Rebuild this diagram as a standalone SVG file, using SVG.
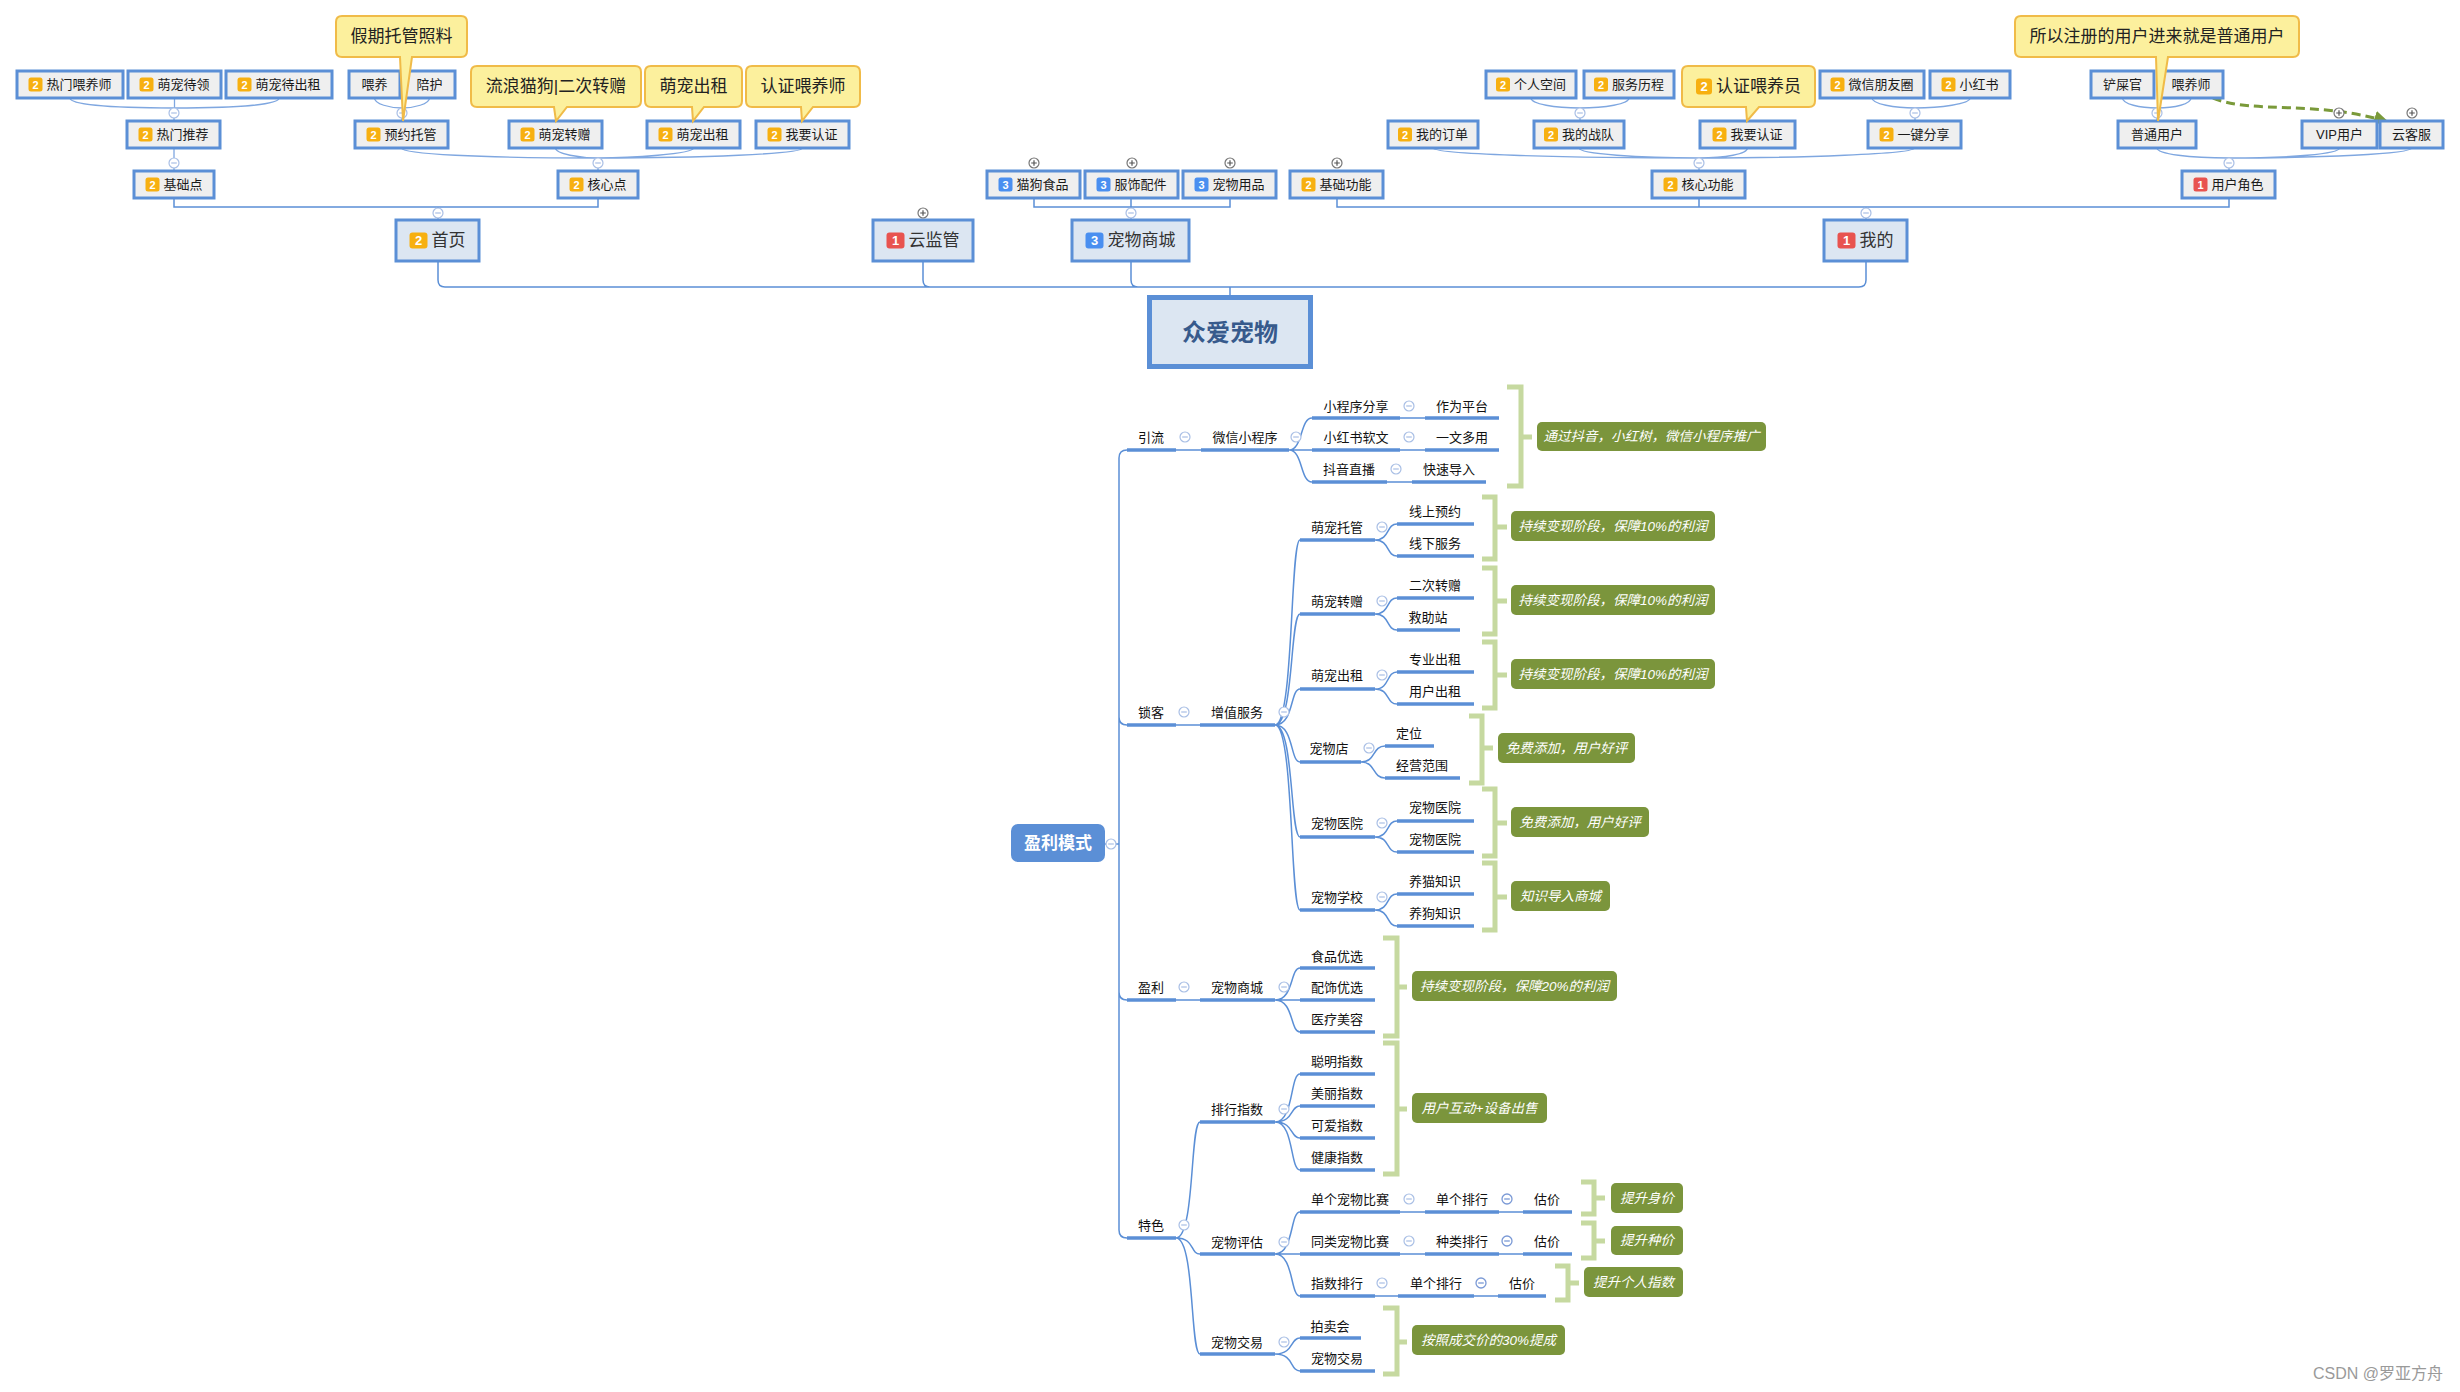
<svg xmlns="http://www.w3.org/2000/svg" xmlns:xlink="http://www.w3.org/1999/xlink" width="2460" height="1392" viewBox="0 0 2460 1392">
<style>
text{font-family:"Liberation Sans","Noto Sans CJK SC",sans-serif;dominant-baseline:central}
.sn{fill:#efefef;stroke:#5b8fd6;stroke-width:3}
.bn{fill:#dce6f2;stroke:#5b8fd6;stroke-width:3}
.ts{font-size:13px;fill:#1a1a1a}
.tc{font-size:13px;fill:#1a1a1a;text-anchor:middle}
.tb{font-size:17px;fill:#333}
.b1{fill:#e8534f}.b2{fill:#f7b010}.b3{fill:#4a8ff0}
.bt{font-size:11px;fill:#fff;font-weight:bold;text-anchor:middle}
.btl{font-size:13px;fill:#fff;font-weight:bold;text-anchor:middle}
.co{fill:#fcf09d;stroke:#f0bb48;stroke-width:2}
.ct{font-size:17px;fill:#222;text-anchor:middle}
.ln{fill:none;stroke:#5b8fd6;stroke-width:1.5}
.lc{fill:none;stroke:#7fa7e0;stroke-width:1.3}
.ul{stroke:#5b8fd6;stroke-width:3.5}
.cm{fill:#fff;stroke:#a9bfe5;stroke-width:1.2}
.cp{fill:#fff;stroke:#777;stroke-width:1.2}
.br{fill:none;stroke:#c6d9a0;stroke-width:5}
.gb{fill:#7b953c}
.gt{font-size:13.5px;fill:#fff;font-style:italic;text-anchor:middle}
.tt{font-size:13px;fill:#111;text-anchor:middle}
</style>
<defs>
<g id="mi"><circle r="5" class="cm"/><path d="M-2.8 0H2.8" stroke="#a9bfe5" stroke-width="1.2"/></g>
<g id="md"><circle r="5" fill="#fff" stroke="#7b9ad6" stroke-width="1.3"/><path d="M-2.8 0H2.8" stroke="#7b9ad6" stroke-width="1.3"/></g>
<g id="pl"><circle r="5" class="cp"/><path d="M-2.8 0H2.8M0 -2.8V2.8" stroke="#555" stroke-width="1.2"/></g>
<marker id="ah" markerWidth="16" markerHeight="14" refX="14" refY="7" orient="auto" markerUnits="userSpaceOnUse"><path d="M0 0L15 7L0 14Z" fill="#7a9a3a"/></marker>
</defs>
<rect width="2460" height="1392" fill="#fff"/>

<g id="connectors">
<path class="lc" d="M70 98C70 104 105 108 174 108M174.5 98V108M279 98C279 104 244 108 174 108M174 108V121"/>
<path class="lc" d="M374.5 98C374.5 104 390 108 402 108M429.5 98C429.5 104 414 108 402 108M402 108V121"/>
<path class="lc" d="M401.5 148C401.5 154 480 158 598 158M555.5 148C555.5 154 580 158 598 158M693.5 148C693.5 154 630 158 598 158M802.5 148C802.5 154 700 158 598 158M598 158V171M174 148V171"/>
<path class="ln" d="M174 198V207H598V198M438 207V220"/>
<path class="lc" d="M1531 98C1531 104 1555 108 1580 108M1629 98C1629 104 1605 108 1580 108M1580 108V121"/>
<path class="lc" d="M1872 98C1872 104 1895 108 1915 108M1970 98C1970 104 1940 108 1915 108M1915 108V121"/>
<path class="lc" d="M1433 148C1433 154 1560 158 1699 158M1579 148C1579 154 1640 158 1699 158M1747.5 148C1747.5 154 1725 158 1699 158M1914.5 148C1914.5 154 1800 158 1699 158M1699 158V171"/>
<path class="lc" d="M2122.5 98C2122.5 104 2140 108 2157 108M2191 98C2191 104 2175 108 2157 108M2157 108V121"/>
<path class="lc" d="M2157 148C2157 154 2190 158 2229 158M2339.5 148C2339.5 154 2290 158 2229 158M2411.5 148C2411.5 154 2320 158 2229 158M2229 158V171"/>
<path class="ln" d="M1034 198V207H1230V198M1131 198V220"/>
<path class="ln" d="M1337 198V207H2229V198M1699 198V207M1866 207V220"/>
<path class="ln" d="M438 261V280Q438 287 445 287H1859Q1866 287 1866 280V261M923 261V280Q923 287 930 287M1131 261V280Q1131 287 1138 287M1230 287V295"/>
<path d="M2213 98C2250 114 2320 100 2388 122" fill="none" stroke="#7a9a3a" stroke-width="3" stroke-dasharray="9,5" marker-end="url(#ah)"/>
<path class="ln" d="M1105 844H1119M1127 450Q1119 450 1119 458V1230Q1119 1238 1127 1238M1119 717Q1119 725 1127 725M1119 992Q1119 1000 1127 1000"/>
<path class="ln" d="M1176 450H1201M1289 450C1303 450 1300 418 1312 418M1289 450H1312M1289 450C1303 450 1300 482 1312 482M1400 418H1425M1400 450H1425M1387 482H1412"/>
<path class="ln" d="M1176 725H1200M1275 725C1294 725 1290 540 1300 540M1275 725C1294 725 1290 614 1300 614M1275 725C1294 725 1290 689 1300 689M1275 725C1294 725 1290 762 1300 762M1275 725C1294 725 1290 837 1300 837M1275 725C1294 725 1290 910 1300 910"/>
<path class="ln" d="M1375 540C1390 540 1386 524 1397 524M1375 540C1390 540 1386 556 1397 556M1375 614C1390 614 1386 598 1397 598M1375 614C1390 614 1386 630 1397 630M1375 689C1390 689 1386 672 1397 672M1375 689C1390 689 1386 704 1397 704M1361 762C1376 762 1372 746 1385 746M1361 762C1376 762 1372 778 1385 778M1375 837C1390 837 1386 821 1397 821M1375 837C1390 837 1386 852 1397 852M1375 910C1390 910 1386 894 1397 894M1375 910C1390 910 1386 926 1397 926"/>
<path class="ln" d="M1176 1000H1200M1275 1000C1294 1000 1290 968 1300 968M1275 1000H1300M1275 1000C1294 1000 1290 1032 1300 1032"/>
<path class="ln" d="M1176 1238C1195 1238 1190 1122 1200 1122M1176 1238C1195 1238 1190 1254 1200 1254M1176 1238C1195 1238 1190 1354 1200 1354"/>
<path class="ln" d="M1275 1122C1294 1122 1290 1074 1300 1074M1275 1122C1294 1122 1290 1106 1300 1106M1275 1122C1294 1122 1290 1138 1300 1138M1275 1122C1294 1122 1290 1170 1300 1170"/>
<path class="ln" d="M1275 1254C1294 1254 1290 1212 1300 1212M1275 1254H1300M1275 1254C1294 1254 1290 1296 1300 1296M1400 1212H1425M1499 1212H1523M1400 1254H1425M1499 1254H1523M1375 1296H1398M1474 1296H1498"/>
<path class="ln" d="M1275 1354C1294 1354 1290 1338 1300 1338M1275 1354C1294 1354 1290 1371 1300 1371"/>
</g>

<g id="n-rmwys"><rect class="sn" x="17" y="71" width="106" height="27"/><rect class="b2" x="28.5" y="77.5" width="14" height="14" rx="2.5"/><text class="bt" x="35.5" y="84.5">2</text><text class="ts" x="46.5" y="84.5">热门喂养师</text></g>
<g id="n-mcdl"><rect class="sn" x="128" y="71" width="93" height="27"/><rect class="b2" x="139.5" y="77.5" width="14" height="14" rx="2.5"/><text class="bt" x="146.5" y="84.5">2</text><text class="ts" x="157.5" y="84.5">萌宠待领</text></g>
<g id="n-mcdcz"><rect class="sn" x="226" y="71" width="106" height="27"/><rect class="b2" x="237.5" y="77.5" width="14" height="14" rx="2.5"/><text class="bt" x="244.5" y="84.5">2</text><text class="ts" x="255.5" y="84.5">萌宠待出租</text></g>
<g id="n-wy"><rect class="sn" x="349" y="71" width="51" height="27"/><text class="tc" x="374.5" y="84.5">喂养</text></g>
<g id="n-ph"><rect class="sn" x="404" y="71" width="51" height="27"/><text class="tc" x="429.5" y="84.5">陪护</text></g>
<g id="n-grkj"><rect class="sn" x="1486" y="71" width="90" height="27"/><rect class="b2" x="1496" y="77.5" width="14" height="14" rx="2.5"/><text class="bt" x="1503" y="84.5">2</text><text class="ts" x="1514" y="84.5">个人空间</text></g>
<g id="n-fwlc"><rect class="sn" x="1584" y="71" width="90" height="27"/><rect class="b2" x="1594" y="77.5" width="14" height="14" rx="2.5"/><text class="bt" x="1601" y="84.5">2</text><text class="ts" x="1612" y="84.5">服务历程</text></g>
<g id="n-wxpyq"><rect class="sn" x="1820" y="71" width="104" height="27"/><rect class="b2" x="1830.5" y="77.5" width="14" height="14" rx="2.5"/><text class="bt" x="1837.5" y="84.5">2</text><text class="ts" x="1848.5" y="84.5">微信朋友圈</text></g>
<g id="n-xhs"><rect class="sn" x="1930" y="71" width="80" height="27"/><rect class="b2" x="1941.5" y="77.5" width="14" height="14" rx="2.5"/><text class="bt" x="1948.5" y="84.5">2</text><text class="ts" x="1959.5" y="84.5">小红书</text></g>
<g id="n-csg"><rect class="sn" x="2091" y="71" width="63" height="27"/><text class="tc" x="2122.5" y="84.5">铲屎官</text></g>
<g id="n-wys"><rect class="sn" x="2159" y="71" width="64" height="27"/><text class="tc" x="2191" y="84.5">喂养师</text></g>

<g id="n-rmtj"><rect class="sn" x="127" y="121" width="93" height="27"/><rect class="b2" x="138.5" y="127.5" width="14" height="14" rx="2.5"/><text class="bt" x="145.5" y="134.5">2</text><text class="ts" x="156.5" y="134.5">热门推荐</text></g>
<g id="n-yyfg"><rect class="sn" x="355" y="121" width="93" height="27"/><rect class="b2" x="366.5" y="127.5" width="14" height="14" rx="2.5"/><text class="bt" x="373.5" y="134.5">2</text><text class="ts" x="384.5" y="134.5">预约托管</text></g>
<g id="n-mczz"><rect class="sn" x="509" y="121" width="93" height="27"/><rect class="b2" x="520.5" y="127.5" width="14" height="14" rx="2.5"/><text class="bt" x="527.5" y="134.5">2</text><text class="ts" x="538.5" y="134.5">萌宠转赠</text></g>
<g id="n-mccz"><rect class="sn" x="647" y="121" width="93" height="27"/><rect class="b2" x="658.5" y="127.5" width="14" height="14" rx="2.5"/><text class="bt" x="665.5" y="134.5">2</text><text class="ts" x="676.5" y="134.5">萌宠出租</text></g>
<g id="n-wyrz1"><rect class="sn" x="756" y="121" width="93" height="27"/><rect class="b2" x="767.5" y="127.5" width="14" height="14" rx="2.5"/><text class="bt" x="774.5" y="134.5">2</text><text class="ts" x="785.5" y="134.5">我要认证</text></g>
<g id="n-wddd"><rect class="sn" x="1388" y="121" width="90" height="27"/><rect class="b2" x="1398" y="127.5" width="14" height="14" rx="2.5"/><text class="bt" x="1405" y="134.5">2</text><text class="ts" x="1416" y="134.5">我的订单</text></g>
<g id="n-wdzd"><rect class="sn" x="1534" y="121" width="90" height="27"/><rect class="b2" x="1544" y="127.5" width="14" height="14" rx="2.5"/><text class="bt" x="1551" y="134.5">2</text><text class="ts" x="1562" y="134.5">我的战队</text></g>
<g id="n-wyrz2"><rect class="sn" x="1700" y="121" width="95" height="27"/><rect class="b2" x="1712.5" y="127.5" width="14" height="14" rx="2.5"/><text class="bt" x="1719.5" y="134.5">2</text><text class="ts" x="1730.5" y="134.5">我要认证</text></g>
<g id="n-yjfx"><rect class="sn" x="1868" y="121" width="93" height="27"/><rect class="b2" x="1879.5" y="127.5" width="14" height="14" rx="2.5"/><text class="bt" x="1886.5" y="134.5">2</text><text class="ts" x="1897.5" y="134.5">一键分享</text></g>
<g id="n-ptyh"><rect class="sn" x="2118" y="121" width="78" height="27"/><text class="tc" x="2157" y="134.5">普通用户</text></g>
<g id="n-vip"><rect class="sn" x="2302" y="121" width="75" height="27"/><text class="tc" x="2339.5" y="134.5">VIP用户</text></g>
<g id="n-ykf"><rect class="sn" x="2380" y="121" width="63" height="27"/><text class="tc" x="2411.5" y="134.5">云客服</text></g>

<g id="n-jcd"><rect class="sn" x="134" y="171" width="80" height="27"/><rect class="b2" x="145.5" y="177.5" width="14" height="14" rx="2.5"/><text class="bt" x="152.5" y="184.5">2</text><text class="ts" x="163.5" y="184.5">基础点</text></g>
<g id="n-hxd"><rect class="sn" x="558" y="171" width="80" height="27"/><rect class="b2" x="569.5" y="177.5" width="14" height="14" rx="2.5"/><text class="bt" x="576.5" y="184.5">2</text><text class="ts" x="587.5" y="184.5">核心点</text></g>
<g id="n-mgsp"><rect class="sn" x="987" y="171" width="93" height="27"/><rect class="b3" x="998.5" y="177.5" width="14" height="14" rx="2.5"/><text class="bt" x="1005.5" y="184.5">3</text><text class="ts" x="1016.5" y="184.5">猫狗食品</text></g>
<g id="n-fspj"><rect class="sn" x="1085" y="171" width="93" height="27"/><rect class="b3" x="1096.5" y="177.5" width="14" height="14" rx="2.5"/><text class="bt" x="1103.5" y="184.5">3</text><text class="ts" x="1114.5" y="184.5">服饰配件</text></g>
<g id="n-cwyp"><rect class="sn" x="1183" y="171" width="93" height="27"/><rect class="b3" x="1194.5" y="177.5" width="14" height="14" rx="2.5"/><text class="bt" x="1201.5" y="184.5">3</text><text class="ts" x="1212.5" y="184.5">宠物用品</text></g>
<g id="n-jcgn"><rect class="sn" x="1290" y="171" width="93" height="27"/><rect class="b2" x="1301.5" y="177.5" width="14" height="14" rx="2.5"/><text class="bt" x="1308.5" y="184.5">2</text><text class="ts" x="1319.5" y="184.5">基础功能</text></g>
<g id="n-hxgn"><rect class="sn" x="1652" y="171" width="93" height="27"/><rect class="b2" x="1663.5" y="177.5" width="14" height="14" rx="2.5"/><text class="bt" x="1670.5" y="184.5">2</text><text class="ts" x="1681.5" y="184.5">核心功能</text></g>
<g id="n-yhjs"><rect class="sn" x="2182" y="171" width="93" height="27"/><rect class="b1" x="2193.5" y="177.5" width="14" height="14" rx="2.5"/><text class="bt" x="2200.5" y="184.5">1</text><text class="ts" x="2211.5" y="184.5">用户角色</text></g>

<g id="n-sy"><rect class="bn" x="396" y="220" width="83" height="41"/><rect class="b2" x="409.5" y="232.5" width="18" height="16" rx="3"/><text class="btl" x="418.5" y="240.5">2</text><text class="tb" x="431.5" y="240.5">首页</text></g>
<g id="n-yjg"><rect class="bn" x="873" y="220" width="100" height="41"/><rect class="b1" x="886.5" y="232.5" width="18" height="16" rx="3"/><text class="btl" x="895.5" y="240.5">1</text><text class="tb" x="908.5" y="240.5">云监管</text></g>
<g id="n-cwsc"><rect class="bn" x="1072" y="220" width="117" height="41"/><rect class="b3" x="1085.5" y="232.5" width="18" height="16" rx="3"/><text class="btl" x="1094.5" y="240.5">3</text><text class="tb" x="1107.5" y="240.5">宠物商城</text></g>
<g id="n-wd"><rect class="bn" x="1824" y="220" width="83" height="41"/><rect class="b1" x="1837.5" y="232.5" width="18" height="16" rx="3"/><text class="btl" x="1846.5" y="240.5">1</text><text class="tb" x="1859.5" y="240.5">我的</text></g>

<g id="n-root"><rect x="1149.5" y="297.5" width="161" height="69" fill="#dce6f2" stroke="#5b8fd6" stroke-width="5"/><text x="1230" y="332" font-size="24" font-weight="bold" fill="#375a8c" text-anchor="middle">众爱宠物</text></g>

<g id="markers">
<use href="#mi" x="174" y="113"/><use href="#mi" x="402" y="113"/><use href="#mi" x="174" y="163"/><use href="#mi" x="598" y="163"/><use href="#mi" x="438" y="213"/>
<use href="#pl" x="923" y="213"/><use href="#mi" x="1131" y="213"/>
<use href="#pl" x="1034" y="163"/><use href="#pl" x="1132" y="163"/><use href="#pl" x="1230" y="163"/><use href="#pl" x="1337" y="163"/>
<use href="#mi" x="1580" y="113"/><use href="#mi" x="1915" y="113"/><use href="#mi" x="1699" y="163"/><use href="#mi" x="1866" y="213"/>
<use href="#mi" x="2157" y="113"/><use href="#pl" x="2339" y="113"/><use href="#pl" x="2412" y="113"/><use href="#mi" x="2229" y="163"/>
<use href="#mi" x="1111" y="844"/>
<use href="#mi" x="1185" y="437"/><use href="#mi" x="1296" y="437"/><use href="#mi" x="1409" y="406"/><use href="#mi" x="1409" y="437"/><use href="#mi" x="1396" y="469"/>
<use href="#mi" x="1184" y="712"/><use href="#mi" x="1284" y="712"/>
<use href="#mi" x="1382" y="527"/><use href="#mi" x="1382" y="601"/><use href="#mi" x="1382" y="675"/><use href="#mi" x="1369" y="748"/><use href="#mi" x="1382" y="823"/><use href="#mi" x="1382" y="897"/>
<use href="#mi" x="1184" y="987"/><use href="#mi" x="1284" y="987"/><use href="#mi" x="1284" y="1109"/>
<use href="#mi" x="1184" y="1225"/><use href="#mi" x="1284" y="1242"/><use href="#mi" x="1284" y="1342"/>
<use href="#mi" x="1409" y="1199"/><use href="#md" x="1507" y="1199"/><use href="#mi" x="1409" y="1241"/><use href="#md" x="1507" y="1241"/><use href="#mi" x="1382" y="1283"/><use href="#md" x="1481" y="1283"/>
</g>

<g id="c-jqtg"><path class="co" d="M342 16H461Q467 16 467 22V51Q467 57 461 57H412L403 121L400 57H342Q336 57 336 51V22Q336 16 342 16Z"/><text class="ct" x="401.5" y="36.5">假期托管照料</text></g>
<g id="c-llmg"><path class="co" d="M477 66H635Q641 66 641 72V101Q641 107 635 107H567L556 121L554 107H477Q471 107 471 101V72Q471 66 477 66Z"/><text class="ct" x="556" y="86.5">流浪猫狗|二次转赠</text></g>
<g id="c-mccz"><path class="co" d="M651 66H736Q742 66 742 72V101Q742 107 736 107H704L693 121L692 107H651Q645 107 645 101V72Q645 66 651 66Z"/><text class="ct" x="693.5" y="86.5">萌宠出租</text></g>
<g id="c-rzwys"><path class="co" d="M752 66H854Q860 66 860 72V101Q860 107 854 107H813L802 121L801 107H752Q746 107 746 101V72Q746 66 752 66Z"/><text class="ct" x="803" y="86.5">认证喂养师</text></g>
<g id="c-rzwyy"><path class="co" d="M1688 66H1809Q1815 66 1815 72V101Q1815 107 1809 107H1759L1747 121L1746 107H1688Q1682 107 1682 101V72Q1682 66 1688 66Z"/><rect class="b2" x="1696" y="78.5" width="16" height="16" rx="3"/><text class="btl" x="1704" y="86.5">2</text><text x="1716" y="86.5" font-size="17" fill="#222">认证喂养员</text></g>
<g id="c-zc"><path class="co" d="M2021 16H2293Q2299 16 2299 22V51Q2299 57 2293 57H2168L2158 121L2156 57H2021Q2015 57 2015 51V22Q2015 16 2021 16Z"/><text class="ct" x="2157" y="36.5">所以注册的用户进来就是普通用户</text></g>

<g id="n-ylms"><rect x="1011" y="824" width="94" height="38" rx="7" fill="#5b8fd6"/><text x="1058" y="843" font-size="17" font-weight="bold" fill="#fff" text-anchor="middle">盈利模式</text></g>

<g id="n-yl"><text class="tt" x="1151" y="437">引流</text><line class="ul" x1="1127" y1="450" x2="1176" y2="450"/></g>
<g id="n-wxxcx"><text class="tt" x="1245" y="437">微信小程序</text><line class="ul" x1="1201" y1="450" x2="1289" y2="450"/></g>
<g id="n-xcxfx"><text class="tt" x="1356" y="406">小程序分享</text><line class="ul" x1="1312" y1="418" x2="1400" y2="418"/></g>
<g id="n-zwpt"><text class="tt" x="1462" y="406">作为平台</text><line class="ul" x1="1425" y1="418" x2="1499" y2="418"/></g>
<g id="n-xhsrw"><text class="tt" x="1356" y="437">小红书软文</text><line class="ul" x1="1312" y1="450" x2="1400" y2="450"/></g>
<g id="n-ywdy"><text class="tt" x="1462" y="437">一文多用</text><line class="ul" x1="1425" y1="450" x2="1499" y2="450"/></g>
<g id="n-dyzb"><text class="tt" x="1349" y="469">抖音直播</text><line class="ul" x1="1312" y1="482" x2="1387" y2="482"/></g>
<g id="n-ksdr"><text class="tt" x="1449" y="469">快速导入</text><line class="ul" x1="1412" y1="482" x2="1486" y2="482"/></g>

<g id="n-sk"><text class="tt" x="1151" y="712">锁客</text><line class="ul" x1="1127" y1="725" x2="1176" y2="725"/></g>
<g id="n-zzfw"><text class="tt" x="1237" y="712">增值服务</text><line class="ul" x1="1200" y1="725" x2="1275" y2="725"/></g>
<g id="n-mctg"><text class="tt" x="1337" y="527">萌宠托管</text><line class="ul" x1="1300" y1="540" x2="1375" y2="540"/></g>
<g id="n-xsyy"><text class="tt" x="1435" y="511">线上预约</text><line class="ul" x1="1397" y1="524" x2="1474" y2="524"/></g>
<g id="n-xxfw"><text class="tt" x="1435" y="543">线下服务</text><line class="ul" x1="1397" y1="556" x2="1474" y2="556"/></g>
<g id="n-mczz2"><text class="tt" x="1337" y="601">萌宠转赠</text><line class="ul" x1="1300" y1="614" x2="1375" y2="614"/></g>
<g id="n-eczz"><text class="tt" x="1435" y="585">二次转赠</text><line class="ul" x1="1397" y1="598" x2="1474" y2="598"/></g>
<g id="n-jzz"><text class="tt" x="1428" y="617">救助站</text><line class="ul" x1="1397" y1="630" x2="1460" y2="630"/></g>
<g id="n-mccz2"><text class="tt" x="1337" y="675">萌宠出租</text><line class="ul" x1="1300" y1="689" x2="1375" y2="689"/></g>
<g id="n-zycz"><text class="tt" x="1435" y="659">专业出租</text><line class="ul" x1="1397" y1="672" x2="1474" y2="672"/></g>
<g id="n-yhcz"><text class="tt" x="1435" y="691">用户出租</text><line class="ul" x1="1397" y1="704" x2="1474" y2="704"/></g>
<g id="n-cwd"><text class="tt" x="1329" y="748">宠物店</text><line class="ul" x1="1300" y1="762" x2="1361" y2="762"/></g>
<g id="n-dw"><text class="tt" x="1409" y="733">定位</text><line class="ul" x1="1385" y1="746" x2="1434" y2="746"/></g>
<g id="n-jyfw"><text class="tt" x="1422" y="765">经营范围</text><line class="ul" x1="1385" y1="778" x2="1460" y2="778"/></g>
<g id="n-cwyy"><text class="tt" x="1337" y="823">宠物医院</text><line class="ul" x1="1300" y1="837" x2="1375" y2="837"/></g>
<g id="n-cwyy1"><text class="tt" x="1435" y="807">宠物医院</text><line class="ul" x1="1397" y1="821" x2="1474" y2="821"/></g>
<g id="n-cwyy2"><text class="tt" x="1435" y="839">宠物医院</text><line class="ul" x1="1397" y1="852" x2="1474" y2="852"/></g>
<g id="n-cwxx"><text class="tt" x="1337" y="897">宠物学校</text><line class="ul" x1="1300" y1="910" x2="1375" y2="910"/></g>
<g id="n-ymzs"><text class="tt" x="1435" y="881">养猫知识</text><line class="ul" x1="1397" y1="894" x2="1474" y2="894"/></g>
<g id="n-ygzs"><text class="tt" x="1435" y="913">养狗知识</text><line class="ul" x1="1397" y1="926" x2="1474" y2="926"/></g>

<g id="n-yl2"><text class="tt" x="1151" y="987">盈利</text><line class="ul" x1="1127" y1="1000" x2="1176" y2="1000"/></g>
<g id="n-cwsc2"><text class="tt" x="1237" y="987">宠物商城</text><line class="ul" x1="1200" y1="1000" x2="1275" y2="1000"/></g>
<g id="n-spyx"><text class="tt" x="1337" y="956">食品优选</text><line class="ul" x1="1300" y1="968" x2="1375" y2="968"/></g>
<g id="n-psyx"><text class="tt" x="1337" y="987">配饰优选</text><line class="ul" x1="1300" y1="1000" x2="1375" y2="1000"/></g>
<g id="n-ylmr"><text class="tt" x="1337" y="1019">医疗美容</text><line class="ul" x1="1300" y1="1032" x2="1375" y2="1032"/></g>

<g id="n-phzs"><text class="tt" x="1237" y="1109">排行指数</text><line class="ul" x1="1200" y1="1122" x2="1275" y2="1122"/></g>
<g id="n-cmzs"><text class="tt" x="1337" y="1061">聪明指数</text><line class="ul" x1="1300" y1="1074" x2="1375" y2="1074"/></g>
<g id="n-mlzs"><text class="tt" x="1337" y="1093">美丽指数</text><line class="ul" x1="1300" y1="1106" x2="1375" y2="1106"/></g>
<g id="n-kazs"><text class="tt" x="1337" y="1125">可爱指数</text><line class="ul" x1="1300" y1="1138" x2="1375" y2="1138"/></g>
<g id="n-jkzs"><text class="tt" x="1337" y="1157">健康指数</text><line class="ul" x1="1300" y1="1170" x2="1375" y2="1170"/></g>

<g id="n-ts"><text class="tt" x="1151" y="1225">特色</text><line class="ul" x1="1127" y1="1238" x2="1176" y2="1238"/></g>
<g id="n-cwpg"><text class="tt" x="1237" y="1242">宠物评估</text><line class="ul" x1="1200" y1="1254" x2="1275" y2="1254"/></g>
<g id="n-dgcwbs"><text class="tt" x="1350" y="1199">单个宠物比赛</text><line class="ul" x1="1300" y1="1212" x2="1400" y2="1212"/></g>
<g id="n-dgph1"><text class="tt" x="1462" y="1199">单个排行</text><line class="ul" x1="1425" y1="1212" x2="1499" y2="1212"/></g>
<g id="n-gj1"><text class="tt" x="1547" y="1199">估价</text><line class="ul" x1="1523" y1="1212" x2="1572" y2="1212"/></g>
<g id="n-tlcwbs"><text class="tt" x="1350" y="1241">同类宠物比赛</text><line class="ul" x1="1300" y1="1254" x2="1400" y2="1254"/></g>
<g id="n-zlph"><text class="tt" x="1462" y="1241">种类排行</text><line class="ul" x1="1425" y1="1254" x2="1499" y2="1254"/></g>
<g id="n-gj2"><text class="tt" x="1547" y="1241">估价</text><line class="ul" x1="1523" y1="1254" x2="1572" y2="1254"/></g>
<g id="n-zsph"><text class="tt" x="1337" y="1283">指数排行</text><line class="ul" x1="1300" y1="1296" x2="1375" y2="1296"/></g>
<g id="n-dgph2"><text class="tt" x="1436" y="1283">单个排行</text><line class="ul" x1="1398" y1="1296" x2="1474" y2="1296"/></g>
<g id="n-gj3"><text class="tt" x="1522" y="1283">估价</text><line class="ul" x1="1498" y1="1296" x2="1546" y2="1296"/></g>
<g id="n-cwjy"><text class="tt" x="1237" y="1342">宠物交易</text><line class="ul" x1="1200" y1="1354" x2="1275" y2="1354"/></g>
<g id="n-pmh"><text class="tt" x="1330" y="1326">拍卖会</text><line class="ul" x1="1300" y1="1338" x2="1361" y2="1338"/></g>
<g id="n-cwjy2"><text class="tt" x="1337" y="1358">宠物交易</text><line class="ul" x1="1300" y1="1371" x2="1375" y2="1371"/></g>

<g id="summaries">
<path class="br" d="M1507 387H1521V486H1507M1521 437H1532"/>
<rect class="gb" x="1537" y="422" width="229" height="29" rx="5"/><text class="gt" x="1651.5" y="436.5">通过抖音，小红树，微信小程序推广</text>
<path class="br" d="M1482 497H1495V559H1482M1495 527H1507"/>
<rect class="gb" x="1511" y="511" width="204" height="30" rx="5"/><text class="gt" x="1613" y="526">持续变现阶段，保障10%的利润</text>
<path class="br" d="M1482 568H1495V634H1482M1495 601H1507"/>
<rect class="gb" x="1511" y="585" width="204" height="30" rx="5"/><text class="gt" x="1613" y="600">持续变现阶段，保障10%的利润</text>
<path class="br" d="M1482 642H1495V708H1482M1495 675H1507"/>
<rect class="gb" x="1511" y="659" width="204" height="30" rx="5"/><text class="gt" x="1613" y="674">持续变现阶段，保障10%的利润</text>
<path class="br" d="M1469 716H1482V783H1469M1482 748H1493"/>
<rect class="gb" x="1498" y="733" width="137" height="30" rx="5"/><text class="gt" x="1566.5" y="748">免费添加，用户好评</text>
<path class="br" d="M1482 789H1495V856H1482M1495 823H1507"/>
<rect class="gb" x="1511" y="807" width="138" height="30" rx="5"/><text class="gt" x="1580" y="822">免费添加，用户好评</text>
<path class="br" d="M1482 863H1495V930H1482M1495 897H1507"/>
<rect class="gb" x="1511" y="881" width="99" height="30" rx="5"/><text class="gt" x="1560.5" y="896">知识导入商城</text>
<path class="br" d="M1383 938H1397V1036H1383M1397 987H1407"/>
<rect class="gb" x="1412" y="971" width="205" height="30" rx="5"/><text class="gt" x="1514.5" y="986">持续变现阶段，保障20%的利润</text>
<path class="br" d="M1383 1043H1397V1174H1383M1397 1109H1407"/>
<rect class="gb" x="1412" y="1093" width="135" height="30" rx="5"/><text class="gt" x="1479.5" y="1108">用户互动+设备出售</text>
<path class="br" d="M1581 1182H1594V1214H1581M1594 1198H1605"/>
<rect class="gb" x="1611" y="1183" width="72" height="30" rx="5"/><text class="gt" x="1647" y="1198">提升身价</text>
<path class="br" d="M1581 1223H1594V1258H1581M1594 1241H1605"/>
<rect class="gb" x="1611" y="1226" width="72" height="29" rx="5"/><text class="gt" x="1647" y="1240.5">提升种价</text>
<path class="br" d="M1555 1266H1568V1300H1555M1568 1283H1579"/>
<rect class="gb" x="1584" y="1267" width="99" height="30" rx="5"/><text class="gt" x="1633.5" y="1282">提升个人指数</text>
<path class="br" d="M1383 1308H1397V1374H1383M1397 1342H1407"/>
<rect class="gb" x="1412" y="1325" width="153" height="30" rx="5"/><text class="gt" x="1488.5" y="1340">按照成交价的30%提成</text>
</g>

<text x="2443" y="1373" font-size="16" fill="#9a9a9a" text-anchor="end">CSDN @罗亚方舟</text>
</svg>
